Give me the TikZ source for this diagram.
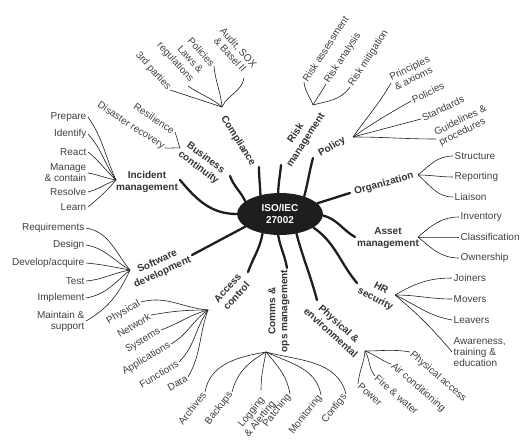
\documentclass[tikz,border=0pt]{standalone}
\usepackage{fontspec}
\setmainfont{Liberation Sans}
\usetikzlibrary{shapes.geometric}
\definecolor{ink}{HTML}{1E1E1E}
\definecolor{topicgray}{HTML}{333333}
\definecolor{leafgray}{HTML}{3F3F3F}

\begin{document}
\begin{tikzpicture}[x=1pt, y=1pt,
    topic/.style={font=\bfseries\fontsize{10}{12}\selectfont, text=topicgray, align=center, inner sep=1pt},
    leaf/.style={font=\fontsize{10}{11}\selectfont, text=leafgray, inner sep=1.5pt},
    spoke/.style={line width=2.3pt, draw=ink, line cap=round},
    twig/.style={line width=0.6pt, draw=ink}
  ]
    \useasboundingbox (0,0) rectangle (526,-444);

    \node[ellipse, fill=ink, minimum width=86pt, minimum height=42pt, inner sep=0pt, text=white,
          font=\bfseries\fontsize{10}{12}\selectfont, align=center] (iso) at (280,-214) {ISO/IEC\\27002};

    % topics round the centre
    \node[topic, rotate=-58] (comp)  at (238,-141) {Compliance};
    \node[topic, rotate=57]  (risk)  at (301,-137) {Risk\\management};
    \node[topic, rotate=30]  (pol)   at (332,-147) {Policy};
    \node[topic, rotate=16]  (org)   at (384,-184) {Organization};
    \node[topic]             (asset) at (388,-238) {Asset\\management};
    \node[topic, rotate=-28] (hr)    at (378,-294) {HR\\security};
    \node[topic, rotate=-42] (phys)  at (335,-328) {Physical \&\\environmental};
    \node[topic, rotate=90]  (ops)   at (279,-311) {Comms \&\\ops management};
    \node[topic, rotate=48]  (acc)   at (232,-292) {Access\\control};
    \node[topic, rotate=25]  (soft)  at (160,-267) {Software\\development};
    \node[topic]             (inc)   at (147,-182) {Incident\\management};
    \node[topic, rotate=-37] (bcm)   at (202,-163) {Business\\continuity};

    % spoke ends and twig hubs
    \coordinate (comp-s)  at (259,-167);
    \coordinate (risk-s)  at (281,-165);
    \coordinate (pol-s)   at (313,-158);
    \coordinate (org-s)   at (350,-193);
    \coordinate (asset-s) at (355,-237);
    \coordinate (hr-s)    at (357,-283);
    \coordinate (phys-s)  at (317,-300);
    \coordinate (ops-s)   at (287,-268);
    \coordinate (acc-s)   at (248,-272);
    \coordinate (soft-s)  at (192,-255);
    \coordinate (inc-s)   at (180,-180);
    \coordinate (bcm-s)   at (230,-176);

    \coordinate (comp-h)  at (222,-107);
    \coordinate (risk-h)  at (313,-105);
    \coordinate (pol-h)   at (353,-137);
    \coordinate (org-h)   at (418,-175);
    \coordinate (asset-h) at (418,-237);
    \coordinate (hr-h)    at (395,-295);
    \coordinate (phys-h)  at (365,-351);
    \coordinate (ops-h)   at (266,-352);
    \coordinate (acc-h)   at (208,-310);
    \coordinate (soft-h)  at (130,-270);
    \coordinate (inc-h)   at (116,-180);
    \coordinate (bcm-h)   at (180,-148);

    \draw[spoke] (iso.136)  to[out=92, in=-90]   (comp-s);
    \draw[spoke] (iso.95)   to[out=88, in=-95]   (risk-s);
    \draw[spoke] (iso.36)   to[out=75, in=-105]  (pol-s);
    \draw[spoke] (iso.16)   --                   (org-s);
    \draw[spoke] (iso.-2)   to[out=-15, in=150]  (asset-s);
    \draw[spoke] (iso.-22)  to[out=-35, in=130]  (hr-s);
    \draw[spoke] (iso.-50)  to[out=-75, in=105]  (phys-s);
    \draw[spoke] (iso.-95)  to[out=-80, in=100]  (ops-s);
    \draw[spoke] (iso.-132) to[out=-100, in=70]  (acc-s);
    \draw[spoke] (iso.-160) --                   (soft-s);
    \draw[spoke] (iso.180)  to[out=180, in=-50]  (inc-s);
    \draw[spoke] (iso.160)  to[out=115, in=-70]  (bcm-s);

    % compliance
    \node[leaf, rotate=-48, anchor=east] (third) at (170,-90) {3rd parties};
    \node[leaf, rotate=-48, anchor=south east, align=right, font=\fontsize{10}{12.5}\selectfont] (laws) at (188,-86) {Laws \&\\regulations};
    \node[leaf, rotate=-48, anchor=east] (cpol) at (214,-66) {Policies};
    \node[leaf, rotate=-48, anchor=south east, align=center] (audit) at (244,-78) {Audit, SOX\\\& Basel II};
    \draw[twig] (third.east)       to[out=-18, in=162] (comp-h);
    \draw[twig] (laws.south east)  to[out=-35, in=140] (comp-h);
    \draw[twig] (cpol.east)        to[out=-85, in=95]  (comp-h);
    \draw[twig] (audit.south east) to[out=-100, in=65] (comp-h);

    % risk management
    \node[leaf, rotate=57, anchor=west] (rassess) at (304,-82) {Risk assessment};
    \node[leaf, rotate=57, anchor=west] (ranal)   at (326,-84) {Risk analysis};
    \node[leaf, rotate=57, anchor=west] (rmitig)  at (350,-87) {Risk mitigation};
    \draw[twig] (risk-h) to[out=110, in=-85]  (rassess.west);
    \draw[twig] (risk-h) to[out=60, in=-120]  (ranal.west);
    \draw[twig] (risk-h) to[out=15, in=-125]  (rmitig.west);

    % policy
    \node[leaf, rotate=26, anchor=west, align=left] (princ)  at (391,-83)  {Principles\\\& axioms};
    \node[leaf, rotate=26, anchor=west]             (ppol)   at (411,-101) {Policies};
    \node[leaf, rotate=26, anchor=west]             (pstd)   at (421,-119) {Standards};
    \node[leaf, rotate=26, anchor=west, align=left] (pguide) at (436,-139) {Guidelines \&\\procedures};
    \draw[twig] (pol-h) to[out=55, in=-120]  (princ.west);
    \draw[twig] (pol-h) to[out=35, in=-150]  (ppol.west);
    \draw[twig] (pol-h) to[out=15, in=-165]  (pstd.west);
    \draw[twig] (pol-h) to[out=0, in=180]    (pguide.west);

    % organization
    \node[leaf, anchor=west] (struct) at (453,-156) {Structure};
    \node[leaf, anchor=west] (report) at (453,-177) {Reporting};
    \node[leaf, anchor=west] (liaise) at (453,-197) {Liaison};
    \draw[twig] (org-h) to[out=40, in=180]  (struct.west);
    \draw[twig] (org-h) to[out=0, in=180]   (report.west);
    \draw[twig] (org-h) to[out=-40, in=180] (liaise.west);

    % asset management
    \node[leaf, anchor=west] (invent) at (459,-217) {Inventory};
    \node[leaf, anchor=west] (classif) at (459,-237) {Classification};
    \node[leaf, anchor=west] (owner) at (459,-258) {Ownership};
    \draw[twig] (asset-h) to[out=40, in=180]  (invent.west);
    \draw[twig] (asset-h) to[out=0, in=180]   (classif.west);
    \draw[twig] (asset-h) to[out=-40, in=180] (owner.west);

    % HR security
    \node[leaf, anchor=west] (join)  at (452,-278) {Joiners};
    \node[leaf, anchor=west] (move)  at (452,-299) {Movers};
    \node[leaf, anchor=west] (leave) at (452,-320) {Leavers};
    \node[leaf, anchor=west, align=left] (aware) at (452,-352) {Awareness,\\training \&\\education};
    \draw[twig] (hr-h) to[out=30, in=180]  (join.west);
    \draw[twig] (hr-h) to[out=0, in=180]   (move.west);
    \draw[twig] (hr-h) to[out=-25, in=170] (leave.west);
    \draw[twig] (hr-h) to[out=-40, in=130] (aware.west);

    % physical & environmental
    \node[leaf, rotate=-41, anchor=west] (paccess) at (410,-352) {Physical access};
    \node[leaf, rotate=-41, anchor=west] (aircon)  at (391,-364) {Air conditioning};
    \node[leaf, rotate=-41, anchor=west] (fire)    at (375,-376) {Fire \& water};
    \node[leaf, rotate=-41, anchor=west] (power)   at (358,-384) {Power};
    \draw[twig] (paccess.west) to[out=170, in=0]  (phys-h);
    \draw[twig] (aircon.west)  to[out=160, in=-20] (phys-h);
    \draw[twig] (fire.west)    to[out=130, in=-60] (phys-h);
    \draw[twig] (power.west)   to[out=85, in=-95]  (phys-h);

    % comms & ops management
    \node[leaf, rotate=52, anchor=east] (archive) at (205,-392) {Archives};
    \node[leaf, rotate=52, anchor=east] (backup)  at (232,-392) {Backups};
    \node[leaf, rotate=52, anchor=north east, align=center] (logging) at (261,-390) {Logging\\\& Alerting};
    \node[leaf, rotate=52, anchor=east] (patch)   at (290,-394) {Patching};
    \node[leaf, rotate=52, anchor=east] (monitor) at (321,-395) {Monitoring};
    \node[leaf, rotate=52, anchor=east] (config)  at (346,-394) {Configs};
    \draw[twig] (archive.east)       to[out=80, in=190]  (ops-h);
    \draw[twig] (backup.east)        to[out=75, in=210]  (ops-h);
    \draw[twig] (logging.north east) to[out=90, in=-100] (ops-h);
    \draw[twig] (patch.east)         to[out=100, in=-50] (ops-h);
    \draw[twig] (monitor.east)       to[out=100, in=-25] (ops-h);
    \draw[twig] (config.east)        to[out=105, in=-15] (ops-h);

    % access control
    \node[leaf, rotate=31, anchor=east] (aphys) at (141,-302) {Physical};
    \node[leaf, rotate=31, anchor=east] (anet)  at (151,-315) {Network};
    \node[leaf, rotate=31, anchor=east] (asys)  at (161,-330) {Systems};
    \node[leaf, rotate=31, anchor=east] (aapp)  at (171,-344) {Applications};
    \node[leaf, rotate=31, anchor=east] (afunc) at (179,-362) {Functions};
    \node[leaf, rotate=31, anchor=east] (adata) at (188,-377) {Data};
    \draw[twig] (aphys.east) to[out=15, in=175]   (acc-h);
    \draw[twig] (anet.east)  to[out=10, in=180]   (acc-h);
    \draw[twig] (asys.east)  to[out=20, in=-165]  (acc-h);
    \draw[twig] (aapp.east)  to[out=30, in=-145]  (acc-h);
    \draw[twig] (afunc.east) to[out=45, in=-125]  (acc-h);
    \draw[twig] (adata.east) to[out=60, in=-110]  (acc-h);

    % software development
    \node[leaf, anchor=east] (req)    at (86,-228) {Requirements};
    \node[leaf, anchor=east] (design) at (86,-245) {Design};
    \node[leaf, anchor=east] (devel)  at (86,-263) {Develop/acquire};
    \node[leaf, anchor=east] (test)   at (86,-281) {Test};
    \node[leaf, anchor=east] (implem) at (86,-298) {Implement};
    \node[leaf, anchor=east, align=right] (maint) at (86,-321) {Maintain \&\\support};
    \draw[twig] (req.east)    to[out=-10, in=130] (soft-h);
    \draw[twig] (design.east) to[out=-10, in=150] (soft-h);
    \draw[twig] (devel.east)  to[out=-5, in=170]  (soft-h);
    \draw[twig] (test.east)   to[out=5, in=-170]  (soft-h);
    \draw[twig] (implem.east) to[out=10, in=-140] (soft-h);
    \draw[twig] (maint.east)  to[out=30, in=-115] (soft-h);

    % incident management
    \node[leaf, anchor=east] (prep)    at (88,-117) {Prepare};
    \node[leaf, anchor=east] (ident)   at (88,-134) {Identify};
    \node[leaf, anchor=east] (react)   at (88,-152) {React};
    \node[leaf, anchor=east, align=right] (manage) at (88,-173) {Manage\\\& contain};
    \node[leaf, anchor=east] (resolve) at (88,-192) {Resolve};
    \node[leaf, anchor=east] (learn)   at (88,-207) {Learn};
    \draw[twig] (prep.east)    to[out=-55, in=115]  (inc-h);
    \draw[twig] (ident.east)   to[out=-48, in=125]  (inc-h);
    \draw[twig] (react.east)   to[out=-38, in=138]  (inc-h);
    \draw[twig] (manage.east)  to[out=-10, in=170]  (inc-h);
    \draw[twig] (resolve.east) to[out=15, in=-160]  (inc-h);
    \draw[twig] (learn.east)   to[out=40, in=-130]  (inc-h);

    % business continuity
    \node[leaf, rotate=-33, anchor=east] (resil)    at (175,-132) {Resilience};
    \node[leaf, rotate=-33, anchor=east] (disaster) at (165,-148) {Disaster recovery};
    \draw[twig] (resil.east)    to[out=-70, in=110] (bcm-h);
    \draw[twig] (disaster.east) to[out=-5, in=175]  (bcm-h);
  \end{tikzpicture}
\end{document}
